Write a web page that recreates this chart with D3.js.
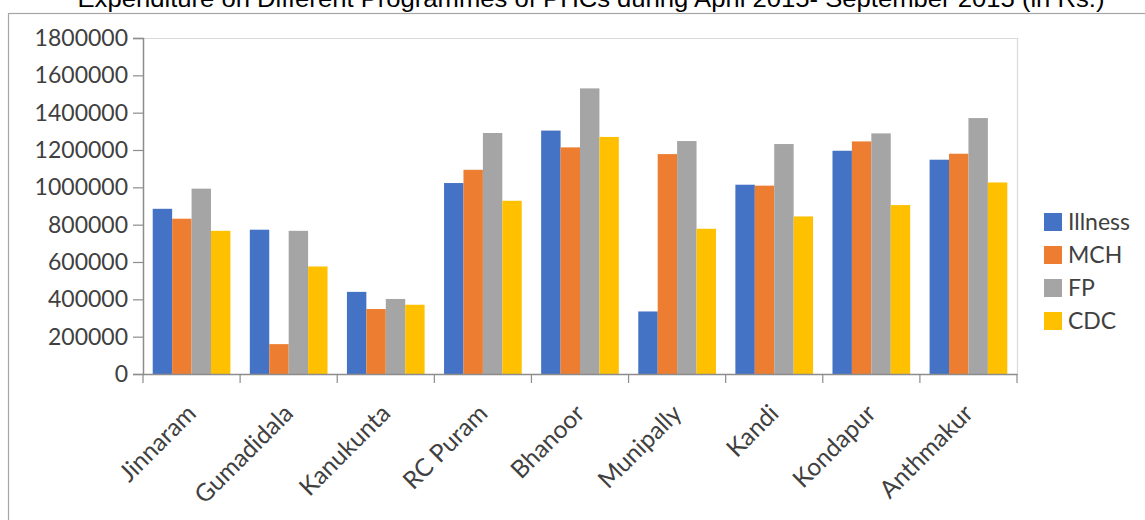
<!DOCTYPE html>
<html><head><meta charset="utf-8">
<script src="https://cdn.jsdelivr.net/npm/d3@7"></script>
<style>
html,body{margin:0;padding:0;background:#fff;overflow:hidden;}
svg{display:block;}
</style></head>
<body>
<svg id="chart" width="1145" height="520"></svg>
<script>
const title = "Expenditure on Different Programmes of PHCs during April 2015- September 2015 (in Rs.)";
const categories = ["Jinnaram","Gumadidala","Kanukunta","RC Puram","Bhanoor","Munipally","Kandi","Kondapur","Anthmakur"];
const seriesNames = ["Illness","MCH","FP","CDC"];
const illness = [885000, 773000, 440000, 1023000, 1304000, 335000, 1014000, 1196000, 1148000];
const mch     = [832000, 160000, 348000, 1094000, 1214000, 1178000, 1009000, 1246000, 1180000];
const fp      = [993000, 767000, 402000, 1291000, 1530000, 1248000, 1232000, 1289000, 1371000];
const cdc     = [767000, 576000, 371000, 928000, 1270000, 778000, 844000, 905000, 1026000];
const yTicks  = [0,200000,400000,600000,800000,1000000,1200000,1400000,1600000,1800000];
const colors  = ["#4472C4","#ED7D31","#A5A5A5","#FFC000"];

const seriesValues = [illness, mch, fp, cdc];
const svg = d3.select("#chart");
const font = "Lato, 'Open Sans', sans-serif";
const textColor = "#404040";

// outer chart border
svg.append("rect").attr("x",8.5).attr("y",13.5).attr("width",1300).attr("height",700)
  .attr("fill","none").attr("stroke","#a6a6a6").attr("stroke-width",1.2);

// title (clipped at top, as in the reference)
svg.append("text").attr("x",591).attr("y",7)
  .attr("text-anchor","middle")
  .attr("font-family","'Liberation Sans', Arial, sans-serif")
  .attr("font-size",24).attr("fill","#000")
  .attr("textLength",1027).attr("lengthAdjust","spacingAndGlyphs")
  .text(title);

const pLeft = 143, pRight = 1017, pTop = 38, pBottom = 374;
const x = d3.scaleBand().domain(categories).range([pLeft,pRight]).padding(0);
const xs = d3.scaleBand().domain(seriesNames).range([0,x.bandwidth()]).paddingInner(0).paddingOuter(0.5);
const y = d3.scaleLinear().domain([0,1800000]).range([pBottom,pTop]);

// plot area border (top & right)
svg.append("path")
  .attr("d",`M${pLeft},${pTop+0.5}H${pRight+0.5}V${pBottom}`)
  .attr("fill","none").attr("stroke","#d9d9d9").attr("stroke-width",1.2);

// bars
seriesNames.forEach((s,si)=>{
  svg.append("g").selectAll("rect").data(categories).join("rect")
    .attr("x",c=>x(c)+xs(s))
    .attr("width",xs.bandwidth())
    .attr("y",(c,i)=>y(seriesValues[si][i]))
    .attr("height",(c,i)=>y(0)-y(seriesValues[si][i]))
    .attr("fill",colors[si]);
});

// y axis
const yAxis = svg.append("g").attr("transform",`translate(${pLeft},0)`)
  .call(d3.axisLeft(y).tickValues(yTicks).tickFormat(d3.format("d")).tickSize(10).tickPadding(5));
yAxis.select(".domain").attr("stroke","#8c8c8c").attr("stroke-width",1.5);
yAxis.selectAll(".tick line").attr("stroke","#8c8c8c").attr("stroke-width",1.2);
yAxis.selectAll("text").attr("font-family",font).attr("font-size",23).attr("fill",textColor);

// x axis
const xAxis = svg.append("g").attr("transform",`translate(0,${pBottom})`)
  .call(d3.axisBottom(x).tickSize(0).tickFormat(""));
xAxis.select(".domain").attr("stroke","#8c8c8c").attr("stroke-width",1.5);
// boundary ticks
const bounds = categories.map(c=>x(c)).concat([pRight]);
svg.append("g").selectAll("line").data(bounds).join("line")
  .attr("x1",d=>d).attr("x2",d=>d).attr("y1",pBottom).attr("y2",pBottom+9)
  .attr("stroke","#8c8c8c").attr("stroke-width",1.2);

// x labels rotated
svg.append("g").selectAll("text").data(categories).join("text")
  .attr("transform",c=>`translate(${x(c)+x.bandwidth()/2+6},${pBottom+41}) rotate(-45)`)
  .attr("text-anchor","end")
  .attr("font-family",font).attr("font-size",24.5).attr("fill",textColor)
  .text(c=>c);

// legend
const lg = svg.append("g");
seriesNames.forEach((s,i)=>{
  const cy = 222 + i*33;
  lg.append("rect").attr("x",1044).attr("y",cy-9).attr("width",18).attr("height",18).attr("fill",colors[i]);
  lg.append("text").attr("x",1068).attr("y",cy).attr("dy","0.35em")
    .attr("font-family",font).attr("font-size",23).attr("fill",textColor).text(s);
});
</script>
</body></html>
